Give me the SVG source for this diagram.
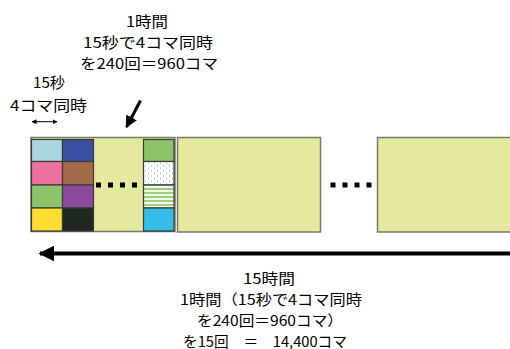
<svg xmlns="http://www.w3.org/2000/svg" width="510" height="349" viewBox="0 0 510 349">
<style>
.t{font-family:"Noto Sans CJK JP","Liberation Sans",sans-serif;font-size:14.5px;fill:#000;text-anchor:middle}
.box{fill:#E4E99F;stroke:#7A7A68;stroke-width:1.5}
.cell{stroke:#3A3A3A;stroke-width:1.2}
.dot{fill:#000}
</style>
<defs>
<pattern id="dots" width="6" height="5" patternUnits="userSpaceOnUse">
<rect width="6" height="5" fill="#FFFFFF"/>
<rect x="1" y="0" width="1" height="2" fill="#A8D4E0"/>
<rect x="4" y="2.5" width="1" height="2" fill="#A8D4E0"/>
</pattern>
<pattern id="stripes" width="4" height="4" patternUnits="userSpaceOnUse">
<rect width="4" height="4" fill="#F2F8EA"/>
<rect width="4" height="2" fill="#9CD17C"/>
</pattern>
<marker id="ah" viewBox="0 0 10 10" refX="9" refY="5" markerWidth="4" markerHeight="4" orient="auto-start-reverse" markerUnits="strokeWidth">
<path d="M0,0 L10,5 L0,10 z" fill="#000"/>
</marker>
<marker id="ahs" viewBox="0 0 10 10" refX="9" refY="5" markerWidth="5" markerHeight="5" orient="auto-start-reverse" markerUnits="strokeWidth">
<path d="M0,0 L10,5 L0,10 z" fill="#000"/>
</marker>
</defs>

<g id="labels">
<text class="t" x="147" y="26.5" textLength="42" lengthAdjust="spacingAndGlyphs">1時間</text>
<text class="t" x="148" y="47.5" textLength="130" lengthAdjust="spacingAndGlyphs">15秒で4コマ同時</text>
<text class="t" x="149" y="68.5" textLength="138" lengthAdjust="spacingAndGlyphs">を240回＝960コマ</text>
<text class="t" x="49" y="87.5" textLength="32" lengthAdjust="spacingAndGlyphs">15秒</text>
<text class="t" x="48.5" y="111" textLength="77" lengthAdjust="spacingAndGlyphs">4コマ同時</text>
<text class="t" x="269" y="283.5" textLength="52" lengthAdjust="spacingAndGlyphs">15時間</text>
<text class="t" x="271" y="304.5" textLength="182" lengthAdjust="spacingAndGlyphs">1時間（15秒で4コマ同時</text>
<text class="t" x="270" y="325.5" textLength="146" lengthAdjust="spacingAndGlyphs">を240回＝960コマ）</text>
<text class="t" x="265" y="346.5" textLength="164" lengthAdjust="spacingAndGlyphs">を15回　＝　14,400コマ</text>
</g>

<g id="hour1">
<rect class="box" x="31" y="137.5" width="144" height="94"/>
<rect class="cell" x="31.5" y="139.5" width="31" height="22" fill="#A9D6DE"/>
<rect class="cell" x="62.5" y="139.5" width="31" height="22" fill="#3A4FA0"/>
<rect class="cell" x="31.5" y="161.5" width="31" height="23.5" fill="#EE70A0"/>
<rect class="cell" x="62.5" y="161.5" width="31" height="23.5" fill="#A2694A"/>
<rect class="cell" x="31.5" y="185" width="31" height="23" fill="#8DC46B"/>
<rect class="cell" x="62.5" y="185" width="31" height="23" fill="#8A4A9E"/>
<rect class="cell" x="31.5" y="208" width="31" height="23" fill="#FFDD33"/>
<rect class="cell" x="62.5" y="208" width="31" height="23" fill="#1E281E"/>
<rect class="cell" x="143.5" y="139.5" width="30.5" height="22" fill="#8DC46B"/>
<rect class="cell" x="143.5" y="161.5" width="30.5" height="23.5" fill="url(#dots)"/>
<rect class="cell" x="143.5" y="185" width="30.5" height="23" fill="url(#stripes)"/>
<rect class="cell" x="143.5" y="208" width="30.5" height="23" fill="#34BDE8"/>
<rect class="dot" x="96" y="182.5" width="5" height="5"/>
<rect class="dot" x="108" y="182.5" width="5" height="5"/>
<rect class="dot" x="120" y="182.5" width="5" height="5"/>
<rect class="dot" x="132" y="182.5" width="5" height="5"/>
</g>

<g id="hour2">
<rect class="box" x="177.5" y="137.5" width="143" height="94.5"/>
</g>

<g id="gap-dots">
<rect class="dot" x="330.5" y="182.5" width="5" height="5"/>
<rect class="dot" x="342.5" y="182.5" width="5" height="5"/>
<rect class="dot" x="354.5" y="182.5" width="5" height="5"/>
<rect class="dot" x="366.5" y="182.5" width="5" height="5"/>
</g>

<g id="hour15">
<rect class="box" x="377.5" y="137.5" width="140" height="94.5"/>
</g>

<g id="connectors">
<line x1="32" y1="121.7" x2="57" y2="121.7" stroke="#000" stroke-width="1" marker-start="url(#ahs)" marker-end="url(#ahs)"/>
<line x1="140.5" y1="100.5" x2="126.5" y2="127" stroke="#000" stroke-width="3" marker-end="url(#ah)"/>
<line x1="510" y1="253.5" x2="40" y2="253.5" stroke="#000" stroke-width="4" marker-end="url(#ah)"/>
</g>
</svg>
